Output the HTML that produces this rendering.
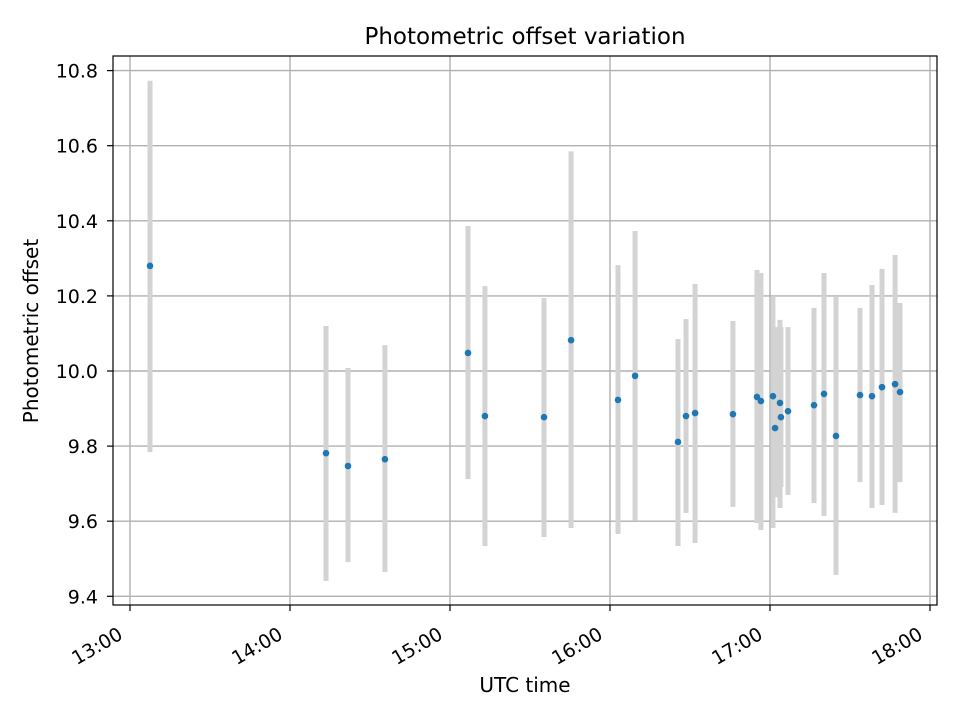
<!DOCTYPE html>
<html><head><meta charset="utf-8"><style>
body{margin:0;background:#fff;}
svg text{font-family:"DejaVu Sans","Liberation Sans",sans-serif;fill:#000;}
</style></head><body>
<svg id="chart" width="960" height="720" viewBox="0 0 960 720" xmlns="http://www.w3.org/2000/svg">
<rect width="960" height="720" fill="#fff"/>
<g id="grid"></g>
<g id="bars"></g>
<g id="points"></g>
<rect x="113" y="56" width="824" height="549" fill="none" stroke="#000" stroke-width="1.2"/>
<g id="ticks"></g>
<text x="525" y="44" font-size="23" text-anchor="middle">Photometric offset variation</text>
<text x="525" y="692" font-size="20" text-anchor="middle">UTC time</text>
<text x="38" y="331" font-size="20" text-anchor="middle" transform="rotate(-90 38 331)">Photometric offset</text>
</svg>
<script>
// minutes after 13:00 UTC
const times=[7.5,73.5,81.75,95.6,126.75,133.1,155.25,165.4,183,189.4,205.5,208.5,211.9,226.1,235.1,236.6,241.1,241.9,243.75,244.1,246.75,256.5,260.25,264.75,273.75,278.25,282,286.9,288.75];
const values=[10.280,9.781,9.747,9.765,10.048,9.880,9.877,10.082,9.923,9.987,9.811,9.880,9.888,9.885,9.931,9.920,9.933,9.848,9.915,9.877,9.893,9.909,9.939,9.827,9.936,9.933,9.957,9.965,9.944];
const uppers=[10.773,10.120,10.008,10.069,10.386,10.226,10.194,10.585,10.282,10.373,10.085,10.138,10.232,10.133,10.269,10.261,10.197,10.117,10.136,10.117,10.117,10.168,10.261,10.197,10.168,10.229,10.272,10.309,10.181];
const lowers=[9.784,9.441,9.491,9.465,9.712,9.534,9.558,9.582,9.566,9.601,9.534,9.622,9.542,9.638,9.595,9.577,9.582,9.664,9.635,9.691,9.670,9.648,9.614,9.457,9.704,9.635,9.643,9.622,9.704];
const xTickMinutes=[0,60,120,180,240,300];
const xTickLabels=["13:00","14:00","15:00","16:00","17:00","18:00"];
const yTicks=[9.4,9.6,9.8,10.0,10.2,10.4,10.6,10.8];

const NS="http://www.w3.org/2000/svg";
const L=113,R=937,T=56,B=605;
const xMin=-6.375,xMax=302.625,yMin=9.3768,yMax=10.8389;
function xs(t){return L+(t-xMin)/(xMax-xMin)*(R-L);}
function ys(v){return B-(v-yMin)/(yMax-yMin)*(B-T);}
function mk(tag,attrs,parent){const e=document.createElementNS(NS,tag);for(const k in attrs)e.setAttribute(k,attrs[k]);parent.appendChild(e);return e;}
const grid=document.getElementById('grid'),ticks=document.getElementById('ticks'),bars=document.getElementById('bars'),pts=document.getElementById('points');
xTickMinutes.forEach((m,i)=>{
  const x=xs(m);
  const g=mk('line',{x1:x,x2:x,y1:T,y2:B,stroke:'#b0b0b0','stroke-width':1.4},grid);
  
  
  const tk=mk('line',{x1:x,x2:x,y1:B,y2:B+6,stroke:'#000','stroke-width':1.2},ticks);
  
  
  const ax=x-6,ay=B+33;
  const tx=mk('text',{x:ax,y:ay,'font-size':19,'text-anchor':'end',transform:`rotate(-30 ${ax} ${ay})`},ticks);
  tx.textContent=xTickLabels[i];
  
  
});
yTicks.forEach(v=>{
  const y=ys(v);
  const g=mk('line',{x1:L,x2:R,y1:y,y2:y,stroke:'#b0b0b0','stroke-width':1.4},grid);
  
  
  const tk=mk('line',{x1:L-6,x2:L,y1:y,y2:y,stroke:'#000','stroke-width':1.2},ticks);
  
  
  const tx=mk('text',{x:L-15,y:y+7,'font-size':19,'text-anchor':'end'},ticks);
  tx.textContent=v.toFixed(1);
  
  
});
times.forEach((t,i)=>{
  const x=xs(t);
  const b=mk('line',{x1:x,x2:x,y1:ys(uppers[i]),y2:ys(lowers[i]),stroke:'#d3d3d3','stroke-width':5},bars);
  
  
});
times.forEach((t,i)=>{
  const c=mk('circle',{cx:xs(t),cy:ys(values[i]),r:3.3,fill:'#1f77b4'},pts);
  
  
});
</script>
</body></html>
